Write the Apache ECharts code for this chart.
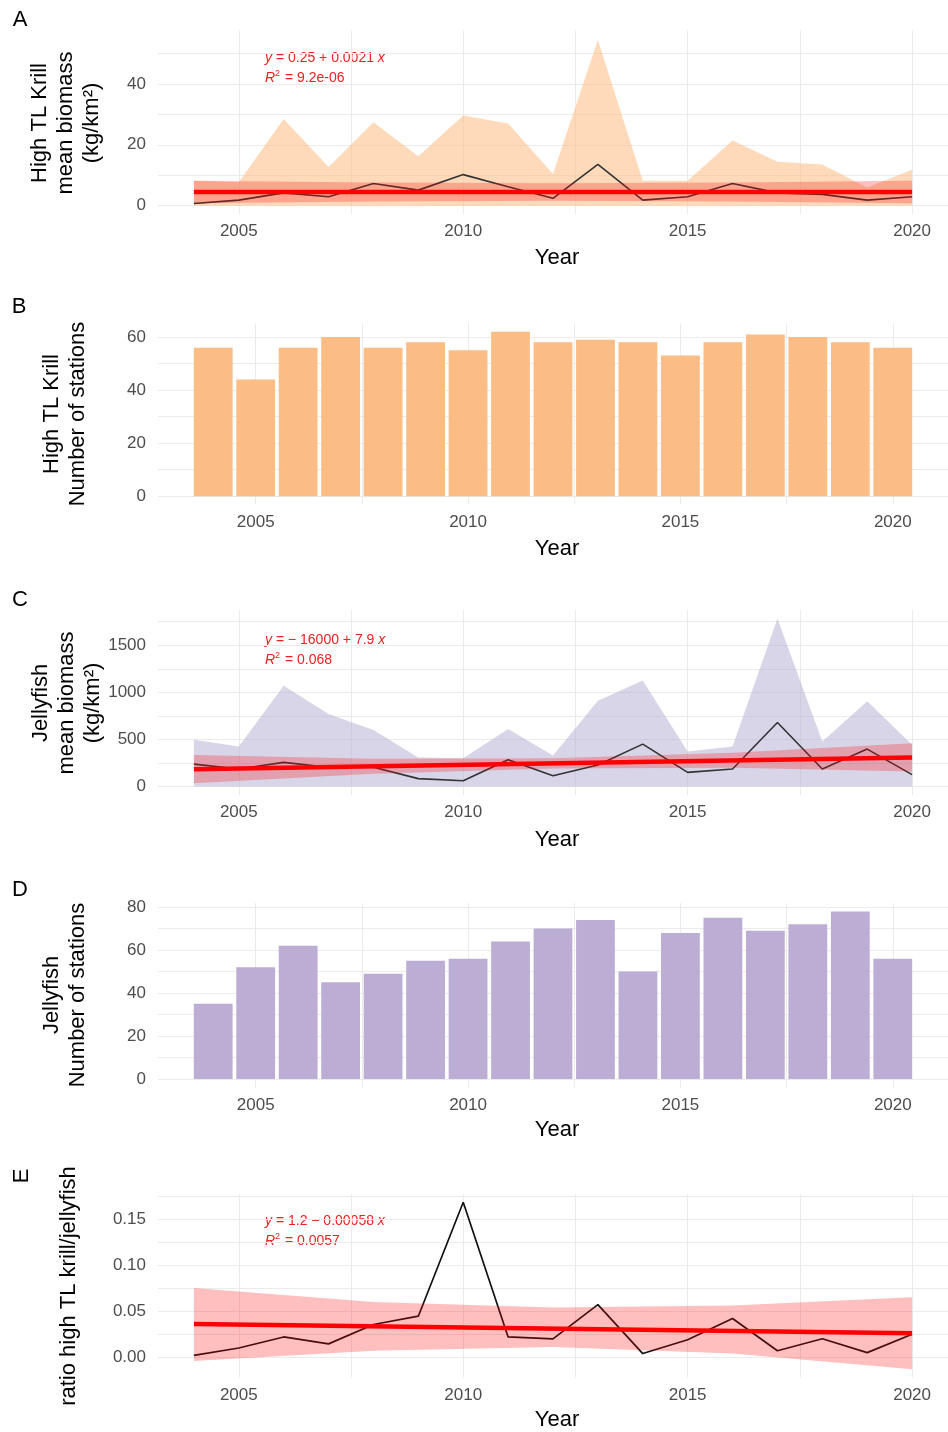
<!DOCTYPE html>
<html><head><meta charset="utf-8">
<script src="https://cdn.jsdelivr.net/npm/echarts@6/dist/echarts.min.js"></script>
<style>html,body{margin:0;padding:0;background:#fff}#c{width:948px;height:1432px}</style>
</head><body><div id="c"></div>
<script>
// ---------- data ----------
const years = [2004,2005,2006,2007,2008,2009,2010,2011,2012,2013,2014,2015,2016,2017,2018,2019,2020];

// Panel A: high TL krill mean biomass
const krillMean  = [0.7,1.8,4.2,2.9,7.3,5.1,10.2,6.2,2.4,13.6,1.8,2.9,7.3,4.2,3.7,1.8,2.9];
const krillUpper = [8.2,7.7,28.5,12.7,27.4,16.2,29.6,27.0,10.4,54.5,8.2,8.2,21.4,14.4,13.5,6.0,11.8];
const krillLower = [0,0,0,0,0,0,0,0,0,0,0,0,0,0,0,0,0];
const krillRegX = [2004,2020];
const krillRegY = [4.5,4.5];
const krillCiX  = [2004,2008,2012,2016,2020];
const krillCiUp = [8.2,7.6,7.4,7.6,8.2];
const krillCiLo = [0.8,1.4,1.6,1.4,0.8];

// Panel B: high TL krill stations
const krillStations = [56,44,56,60,56,58,55,62,58,59,58,53,58,61,60,58,56];

// Panel C: jellyfish mean biomass
const jellyMean  = [239,187,257,205,205,85,63,285,116,230,451,151,187,680,187,398,127];
const jellyUpper = [496,426,1070,770,600,310,300,612,330,910,1125,373,426,1785,480,905,444];
const jellyLower = [0,0,0,0,0,0,0,0,0,0,0,0,0,0,0,0,0];
const jellyRegX = [2004,2020];
const jellyRegY = [185,310];
const jellyCiX  = [2004,2008,2012,2016,2020];
const jellyCiUp = [335,296,302,359,460];
const jellyCiLo = [35,136,192,199,160];

// Panel D: jellyfish stations
const jellyStations = [35,52,62,45,49,55,56,64,70,74,50,68,75,69,72,78,56];

// Panel E: ratio
const ratio = [0.002,0.010,0.022,0.0145,0.0355,0.0445,0.168,0.022,0.020,0.057,0.004,0.019,0.042,0.007,0.020,0.005,0.025];
const ratioRegX = [2004,2020];
const ratioRegY = [0.036,0.026];
const ratioCiX  = [2004,2008,2012,2016,2020];
const ratioCiUp = [0.075,0.060,0.054,0.056,0.065];
const ratioCiLo = [-0.004,0.007,0.011,0.004,-0.013];

// tick labels / grid values
const xTickLabels = [2005,2010,2015,2020];
const xGridValues = [2005,2007.5,2010,2012.5,2015,2017.5,2020];
const yTicksA = [0,20,40];      const yGridA = [0,10,20,30,40,50];
const yTicksB = [0,20,40,60];   const yGridB = [0,10,20,30,40,50,60];
const yTicksC = [0,500,1000,1500]; const yGridC = [0,250,500,750,1000,1250,1500,1750];
const yTicksD = [0,20,40,60,80]; const yGridD = [0,10,20,30,40,50,60,70,80];
const yTicksE = [0,0.05,0.10,0.15]; const yGridE = [0,0.025,0.05,0.075,0.10,0.125,0.15,0.175];

// ---------- styling ----------
const FONT = "'Liberation Sans', Arial, sans-serif";
const GRIDC = '#ebebeb';
const ORANGE_BAR = '#fbbd85';
const ORANGE_RIB = 'rgba(253,187,132,0.55)';
const PURPLE_BAR = '#bcadd5';
const PURPLE_RIB = 'rgba(178,172,210,0.5)';
const CI_FILL = 'rgba(255,0,0,0.25)';
const RED = '#ff0000';
const EQ_RED = '#ee2020';

const chart = echarts.init(document.getElementById('c'), null, {renderer:'canvas'});

const grids = [
  {left:158, top:30,    width:800, height:184},
  {left:158, top:323.5, width:803, height:181},
  {left:158, top:610,   width:800, height:185},
  {left:158, top:903,   width:803, height:184.5},
  {left:158, top:1194,  width:800, height:184}
];

function xAx(gi, min, max) {
  return {type:'value', gridIndex:gi, min:min, max:max,
    axisLine:{show:false}, axisTick:{show:false, customValues:xGridValues},
    axisLabel:{customValues:xTickLabels, color:'#4d4d4d', fontSize:17, margin:9, fontFamily:FONT,
      formatter: v => String(v)},
    splitLine:{show:true, lineStyle:{color:GRIDC, width:1}}};
}
function yAx(gi, min, max, ticks, gridv, fmt) {
  return {type:'value', gridIndex:gi, min:min, max:max,
    axisLine:{show:false}, axisTick:{show:false, customValues:gridv},
    axisLabel:{customValues:ticks, color:'#4d4d4d', fontSize:17, margin:12, fontFamily:FONT,
      formatter: fmt || (v => String(v))},
    splitLine:{show:true, lineStyle:{color:GRIDC, width:1}}};
}

function band(ax, xs, up, lo, color, z) {
  const pts = xs.map((x,i)=>[x, up[i], lo[i]]);
  return {type:'custom', xAxisIndex:ax, yAxisIndex:ax, z:z, silent:true, clip:true,
    data: pts, encode:{x:0, y:[1,2]},
    renderItem: function(params, api) {
      if (params.dataIndex !== 0) return null;
      const top = pts.map(p => api.coord([p[0], p[1]]));
      const bot = pts.map(p => api.coord([p[0], p[2]])).reverse();
      return {type:'polygon', shape:{points: top.concat(bot)}, style:{fill: color}};
    }};
}
function line(ax, xs, ys, color, width, z) {
  return {type:'line', xAxisIndex:ax, yAxisIndex:ax, z:z, silent:true,
    data: xs.map((x,i)=>[x, ys[i]]), showSymbol:false, symbol:'none',
    lineStyle:{color:color, width:width}};
}
function bars(ax, ys, color) {
  return {type:'bar', xAxisIndex:ax, yAxisIndex:ax, z:2, silent:true,
    data: years.map((x,i)=>[x, ys[i]]), barWidth:38.8, itemStyle:{color:color}};
}

const series = [
  band(0, years, krillUpper, krillLower, ORANGE_RIB, 1),
  line(0, years, krillMean, '#333333', 1.6, 3),
  band(0, krillCiX, krillCiUp, krillCiLo, CI_FILL, 4),
  line(0, krillRegX, krillRegY, RED, 4.5, 5),

  bars(1, krillStations, ORANGE_BAR),

  band(2, years, jellyUpper, jellyLower, PURPLE_RIB, 1),
  line(2, years, jellyMean, '#333333', 1.6, 3),
  band(2, jellyCiX, jellyCiUp, jellyCiLo, CI_FILL, 4),
  line(2, jellyRegX, jellyRegY, RED, 4.5, 5),

  bars(3, jellyStations, PURPLE_BAR),

  band(4, ratioCiX, ratioCiUp, ratioCiLo, CI_FILL, 4),
  line(4, years, ratio, '#111111', 1.7, 3),
  line(4, ratioRegX, ratioRegY, RED, 4.5, 5)
];

function txt(x, y, text, size, extra) {
  return Object.assign({type:'text', x:x, y:y, silent:true,
    style:{text:text, fontSize:size, fontFamily:FONT, fill:'#000', align:'center', verticalAlign:'middle'}}, extra || {});
}
function ytitle(x, y, text) {
  return {type:'text', x:x, y:y, rotation:Math.PI/2, silent:true,
    style:{text:text, fontSize:22, fontFamily:FONT, fill:'#000', align:'center', verticalAlign:'middle', lineHeight:26}};
}
function eq(x, y, l1, l2) {
  return {type:'text', x:x, y:y, silent:true,
    style:{text: l1 + '\n' + l2, fontSize:14, fontFamily:FONT, fill:EQ_RED, align:'left', verticalAlign:'middle', lineHeight:20,
      rich:{i:{fontStyle:'italic', fontSize:14, fontFamily:FONT, fill:EQ_RED},
            s:{fontSize:9, fontFamily:FONT, fill:EQ_RED, padding:[0,1,9,0]},
            n:{fontSize:14, fontFamily:FONT, fill:EQ_RED}}}};
}

const graphics = [
  txt(20, 20, 'A', 22), txt(19, 307, 'B', 22), txt(20, 600, 'C', 22), txt(20, 890, 'D', 22),
  {type:'text', x:22, y:1176, rotation:Math.PI/2, silent:true,
    style:{text:'E', fontSize:22, fontFamily:FONT, fill:'#000', align:'center', verticalAlign:'middle'}},

  txt(557, 258, 'Year', 22), txt(557, 549, 'Year', 22), txt(557, 840, 'Year', 22),
  txt(557, 1130, 'Year', 22), txt(557, 1420, 'Year', 22),

  ytitle(66, 123, 'High TL Krill\nmean biomass\n(kg/km\u00b2)'),
  ytitle(65, 414, 'High TL Krill\nNumber of stations'),
  ytitle(67, 703, 'Jellyfish\nmean biomass\n(kg/km\u00b2)'),
  ytitle(65, 995, 'Jellyfish\nNumber of stations'),
  ytitle(69, 1286, 'ratio high TL krill/jellyfish'),

  eq(265, 68, '{i|y}{n| = 0.25 + 0.0021 }{i|x}', '{i|R}{s|2}{n| = 9.2e-06}'),
  eq(265, 650, '{i|y}{n| = \u2212 16000 + 7.9 }{i|x}', '{i|R}{s|2}{n| = 0.068}'),
  eq(265, 1231, '{i|y}{n| = 1.2 \u2212 0.00058 }{i|x}', '{i|R}{s|2}{n| = 0.0057}')
];

chart.setOption({
  animation:false,
  backgroundColor:'#ffffff',
  grid: grids,
  xAxis: [xAx(0,2003.2,2020.8), xAx(1,2002.7,2021.3), xAx(2,2003.2,2020.8), xAx(3,2002.7,2021.3), xAx(4,2003.2,2020.8)],
  yAxis: [
    yAx(0, -2.75, 57.75, yTicksA, yGridA),
    yAx(1, -3.1, 65.1, yTicksB, yGridB),
    yAx(2, -89, 1874, yTicksC, yGridC),
    yAx(3, -3.9, 81.9, yTicksD, yGridD),
    yAx(4, -0.0225, 0.177, yTicksE, yGridE, v => v.toFixed(2))
  ],
  series: series,
  graphic: graphics
});
</script>
</body></html>
